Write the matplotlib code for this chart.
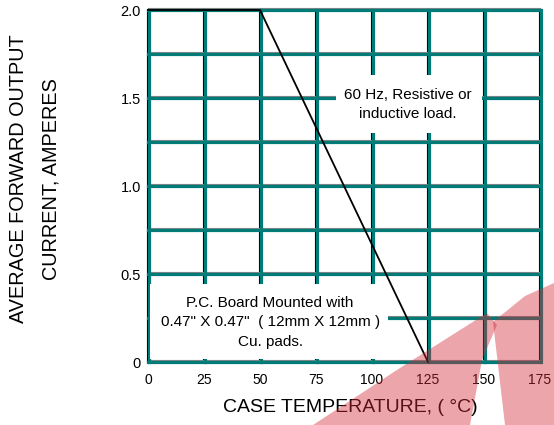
import matplotlib
matplotlib.use('Agg')
import matplotlib.pyplot as plt
from matplotlib.patches import Rectangle, Polygon

plt.rcParams['font.family'] = ['Liberation Sans', 'DejaVu Sans']

# derating curve
temp = [0, 50, 125]
current = [2.0, 2.0, 0.0]

x_ticks = [0, 25, 50, 75, 100, 125, 150, 175]
x_labels = ['0', '25', '50', '75', '100', '125', '150', '175']
y_ticks = [0, 0.5, 1.0, 1.5, 2.0]
y_labels = ['0', '0.5', '1.0', '1.5', '2.0']
y_grid = [0, 0.25, 0.5, 0.75, 1.0, 1.25, 1.5, 1.75, 2.0]

teal = '#007b78'

fig = plt.figure(figsize=(5.54, 4.25), dpi=100)
ax = fig.add_axes([148/554, 1-362/425, 392/554, 352/425])
ax.set_xlim(0, 175)
ax.set_ylim(0, 2.0)
for s in ax.spines.values():
    s.set_visible(False)

# grid: thick teal with a thin dark edge
for x in x_ticks:
    ax.axvline(x - 0.6, color='black', lw=0.8, zorder=1, clip_on=False)
    ax.axvline(x + 0.4, color=teal, lw=2.3, zorder=2, clip_on=False)
for y in y_grid:
    ax.axhline(y + 0.009, color='#888888', lw=0.8, zorder=1, clip_on=False)
    ax.axhline(y, color=teal, lw=2.3, zorder=2, clip_on=False)

ax.set_xticks(x_ticks)
ax.set_xticklabels(x_labels, fontsize=10)
ax.set_yticks(y_ticks)
ax.set_yticklabels(y_labels, fontsize=10.5)
ax.tick_params(length=0)
ax.tick_params(axis='x', pad=8)
ax.tick_params(axis='y', pad=5)

# note boxes
ax.add_patch(Rectangle((84, 1.30), 65, 0.33, facecolor='white', edgecolor='none', zorder=3))
ax.text(116, 1.465, '60 Hz, Resistive or\ninductive load.', ha='center', va='center',
        fontsize=11, linespacing=1.45, zorder=4)
ax.add_patch(Rectangle((1.0, 0.015), 106, 0.43, facecolor='white', edgecolor='none', zorder=3))
ax.text(54.5, 0.227, 'P.C. Board Mounted with\n0.47" X 0.47"  ( 12mm X 12mm )\nCu. pads.',
        ha='center', va='center', fontsize=11, linespacing=1.5, zorder=4)

ax.plot(temp, current, color='black', lw=1.3, zorder=5, clip_on=False)

fig.text(350/554, 1-407/425, 'CASE TEMPERATURE, ( °C)', ha='center', va='center', fontsize=14)
fig.text(19/554, 1-179/425, 'AVERAGE FORWARD OUTPUT', ha='center', va='center',
         rotation=90, fontsize=14.3)
fig.text(51/554, 1-179/425, 'CURRENT, AMPERES', ha='center', va='center',
         rotation=90, fontsize=14.3)

# faint red watermark in the lower right corner
def px(pts):
    return [(a/554, 1-b/425) for a, b in pts]

wm = dict(closed=True, transform=fig.transFigure, facecolor='#d42a36',
          edgecolor='none', alpha=0.42, zorder=10)
fig.patches.append(Polygon(px([(313, 425), (400, 368), (487, 313), (497, 325), (482, 360),
                               (470, 425)]), **wm))
fig.patches.append(Polygon(px([(493, 322), (525, 296), (554, 283), (554, 425), (505, 425)]), **wm))

fig.savefig('out.png', dpi=100)
